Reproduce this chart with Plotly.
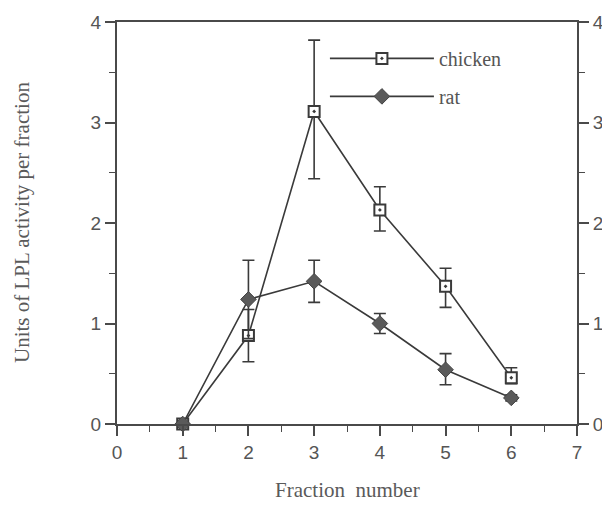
import plotly.graph_objects as go

fractions = [1, 2, 3, 4, 5, 6]
chicken = [0.0, 0.88, 3.11, 2.13, 1.37, 0.46]
chicken_err_plus = [0.0, 0.26, 0.71, 0.23, 0.18, 0.10]
chicken_err_minus = [0.0, 0.26, 0.67, 0.21, 0.21, 0.06]
rat = [0.0, 1.24, 1.42, 1.00, 0.54, 0.26]
rat_err_plus = [0.0, 0.39, 0.21, 0.10, 0.16, 0.03]
rat_err_minus = [0.0, 0.39, 0.21, 0.10, 0.15, 0.03]

x_ticks = [0, 1, 2, 3, 4, 5, 6, 7]
y_ticks = [0, 1, 2, 3, 4]

line_col = "#3a3a3a"
axis_col = "#4a4a4a"
label_col = "#555555"

fig = go.Figure()
fig.add_trace(go.Scatter(
    x=fractions, y=chicken, name="chicken", mode="lines+markers", legendgroup="a",
    line=dict(color=line_col, width=1.6),
    marker=dict(symbol="square-dot", size=11, color="white",
                line=dict(color=line_col, width=2)),
    error_y=dict(type="data", symmetric=False, array=chicken_err_plus,
                 arrayminus=chicken_err_minus, color=line_col, thickness=1.6, width=6),
    cliponaxis=False,
))
fig.add_trace(go.Scatter(
    x=fractions, y=rat, name="rat", mode="lines+markers", legendgroup="b",
    line=dict(color=line_col, width=1.6),
    marker=dict(symbol="diamond", size=12, color="#5a5a5a",
                line=dict(color="#444444", width=1)),
    error_y=dict(type="data", symmetric=False, array=rat_err_plus,
                 arrayminus=rat_err_minus, color=line_col, thickness=1.6, width=6),
    cliponaxis=False,
))
fig.add_trace(go.Scatter(x=[None], y=[None], yaxis="y2", showlegend=False, hoverinfo="skip"))

tickfont = dict(family="Liberation Sans, Arial, sans-serif", size=19, color=label_col)
titlefont = dict(family="Liberation Serif, Times New Roman, serif", size=21, color="#5a5a5a")

minor = dict(dtick=0.5, ticks="outside", ticklen=6, tickwidth=1.4, tickcolor=axis_col)
common = dict(ticks="outside", ticklen=10, tickwidth=1.6, tickcolor=axis_col,
              showline=True, linecolor=axis_col, linewidth=2, showgrid=False,
              zeroline=False, tickfont=tickfont, automargin=False, minor=minor)

fig.update_layout(
    width=602, height=503,
    margin=dict(l=109, r=33, t=14, b=87),
    paper_bgcolor="white", plot_bgcolor="white",
    showlegend=True,
    legend=dict(x=0.452, y=0.958, xanchor="left", yanchor="top",
                bgcolor="rgba(0,0,0,0)", font=dict(family="Liberation Serif, serif", size=20, color="#555555"),
                itemwidth=104, traceorder="grouped", tracegroupgap=9),
    xaxis=dict(range=[0, 7], tickvals=x_ticks, mirror=True, **common),
    yaxis=dict(range=[0, 4], tickvals=y_ticks, **common),
    yaxis2=dict(range=[0, 4], tickvals=y_ticks, overlaying="y", side="right", **common),
    annotations=[
        dict(text="Fraction  number", x=0.5, y=-0.164, xref="paper", yref="paper",
             xanchor="center", yanchor="middle", showarrow=False, font=titlefont),
        dict(text="Units of LPL activity per fraction", x=-0.2065, y=0.5, xref="paper",
             yref="paper", xanchor="center", yanchor="middle", textangle=-90,
             showarrow=False, font=titlefont),
    ],
)

fig.write_html("out.html")
